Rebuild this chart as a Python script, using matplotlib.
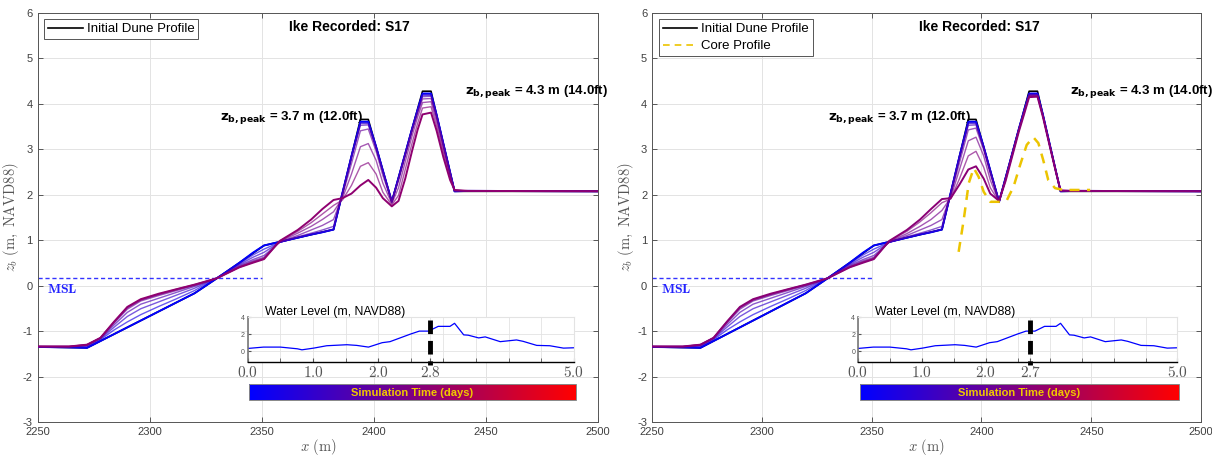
import matplotlib
matplotlib.use('Agg')
import matplotlib.pyplot as plt
from matplotlib.colors import LinearSegmentedColormap, Normalize
from matplotlib.cm import ScalarMappable

plt.rcParams['font.family'] = ['Liberation Sans', 'DejaVu Sans']
plt.rcParams['mathtext.fontset'] = 'cm'
plt.rcParams['axes.unicode_minus'] = False

# cross-shore positions of the output profiles (m)
x_grid = [2250, 2264, 2272, 2278, 2284, 2290, 2296, 2304, 2312, 2320, 2330, 2340, 2346, 2351,
          2358, 2366, 2372, 2377, 2382, 2386, 2390, 2394, 2397.5, 2401, 2404, 2408, 2411, 2414,
          2417, 2419.5, 2421.7, 2425.5, 2428, 2431, 2434, 2436, 2442, 2500]

# output times (days)
times_left = [0.0, 0.5, 1.0, 1.5, 2.0, 2.3, 2.55, 2.8]
times_right = [0.0, 0.5, 1.0, 1.5, 2.0, 2.25, 2.5, 2.7]

# beach part of each profile (x <= 2351), same in both runs
beach_z = [
    [-1.35, -1.36, -1.37, -1.22, -1.07, -0.92, -0.77, -0.57, -0.37, -0.17, 0.16, 0.50, 0.72, 0.88],
    [-1.35, -1.36, -1.35, -1.19, -0.98, -0.80, -0.64, -0.46, -0.29, -0.11, 0.17, 0.48, 0.67, 0.80],
    [-1.35, -1.35, -1.33, -1.17, -0.92, -0.68, -0.51, -0.36, -0.21, -0.06, 0.17, 0.46, 0.62, 0.73],
    [-1.34, -1.35, -1.32, -1.16, -0.87, -0.59, -0.41, -0.28, -0.15, -0.02, 0.16, 0.44, 0.57, 0.66],
    [-1.34, -1.34, -1.31, -1.15, -0.83, -0.52, -0.34, -0.22, -0.11, 0.00, 0.16, 0.42, 0.54, 0.62],
    [-1.34, -1.34, -1.30, -1.15, -0.81, -0.49, -0.32, -0.20, -0.09, 0.01, 0.16, 0.41, 0.52, 0.60],
    [-1.34, -1.34, -1.30, -1.15, -0.80, -0.48, -0.31, -0.19, -0.08, 0.02, 0.16, 0.40, 0.51, 0.59],
    [-1.34, -1.34, -1.30, -1.15, -0.80, -0.47, -0.30, -0.18, -0.08, 0.02, 0.16, 0.40, 0.50, 0.58],
]

# dune part (x >= 2358), run without core
dune_left_z = [
    [0.96, 1.05, 1.12, 1.17, 1.23, 2.04, 2.84, 3.60, 3.60, 3.05, 2.53, 1.84, 2.37, 2.90, 3.44, 3.86, 4.22, 4.22, 3.75, 3.12, 2.49, 2.07, 2.08, 2.07],
    [0.95, 1.05, 1.12, 1.17, 1.23, 2.04, 2.84, 3.58, 3.58, 3.05, 2.53, 1.85, 2.37, 2.90, 3.44, 3.85, 4.20, 4.20, 3.75, 3.12, 2.49, 2.08, 2.08, 2.07],
    [0.95, 1.06, 1.13, 1.18, 1.24, 2.03, 2.83, 3.56, 3.56, 3.04, 2.52, 1.85, 2.36, 2.89, 3.43, 3.84, 4.18, 4.18, 3.74, 3.11, 2.49, 2.08, 2.08, 2.07],
    [0.95, 1.07, 1.15, 1.22, 1.30, 2.02, 2.80, 3.52, 3.53, 3.02, 2.50, 1.85, 2.35, 2.88, 3.42, 3.82, 4.15, 4.16, 3.72, 3.10, 2.48, 2.08, 2.08, 2.07],
    [0.96, 1.10, 1.22, 1.32, 1.45, 1.98, 2.68, 3.40, 3.44, 2.95, 2.42, 1.84, 2.30, 2.84, 3.38, 3.78, 4.10, 4.11, 3.68, 3.06, 2.46, 2.08, 2.08, 2.07],
    [0.97, 1.15, 1.30, 1.45, 1.62, 1.92, 2.45, 3.05, 3.12, 2.75, 2.25, 1.80, 2.15, 2.72, 3.28, 3.70, 4.02, 4.04, 3.60, 3.00, 2.42, 2.09, 2.08, 2.07],
    [0.98, 1.19, 1.38, 1.57, 1.76, 1.88, 2.20, 2.62, 2.70, 2.45, 2.05, 1.77, 1.98, 2.55, 3.12, 3.56, 3.90, 3.93, 3.50, 2.92, 2.37, 2.09, 2.08, 2.07],
    [0.98, 1.22, 1.45, 1.68, 1.88, 1.92, 2.02, 2.20, 2.32, 2.15, 1.92, 1.74, 1.86, 2.35, 2.95, 3.42, 3.76, 3.80, 3.40, 2.82, 2.32, 2.10, 2.08, 2.07],
]

# dune part (x >= 2358), run with core
dune_right_z = [
    [0.96, 1.05, 1.12, 1.17, 1.23, 2.04, 2.84, 3.60, 3.60, 3.05, 2.53, 1.84, 2.37, 2.90, 3.44, 3.86, 4.22, 4.22, 3.75, 3.12, 2.49, 2.07, 2.08, 2.07],
    [0.95, 1.05, 1.12, 1.17, 1.23, 2.04, 2.84, 3.58, 3.58, 3.05, 2.53, 1.85, 2.37, 2.90, 3.44, 3.85, 4.21, 4.21, 3.75, 3.12, 2.49, 2.08, 2.08, 2.07],
    [0.95, 1.06, 1.13, 1.18, 1.24, 2.03, 2.83, 3.56, 3.56, 3.04, 2.52, 1.85, 2.36, 2.89, 3.43, 3.85, 4.20, 4.20, 3.74, 3.11, 2.49, 2.08, 2.08, 2.07],
    [0.95, 1.07, 1.15, 1.22, 1.30, 2.02, 2.80, 3.52, 3.53, 3.02, 2.50, 1.85, 2.35, 2.88, 3.42, 3.84, 4.19, 4.19, 3.73, 3.10, 2.48, 2.08, 2.08, 2.07],
    [0.96, 1.10, 1.22, 1.32, 1.45, 1.98, 2.70, 3.42, 3.46, 2.98, 2.45, 1.84, 2.36, 2.89, 3.43, 3.83, 4.18, 4.18, 3.73, 3.10, 2.48, 2.08, 2.08, 2.07],
    [0.97, 1.14, 1.30, 1.45, 1.65, 1.93, 2.55, 3.18, 3.26, 2.85, 2.32, 1.83, 2.34, 2.88, 3.42, 3.82, 4.17, 4.17, 3.72, 3.09, 2.48, 2.08, 2.08, 2.07],
    [0.98, 1.19, 1.40, 1.60, 1.82, 1.90, 2.35, 2.85, 2.95, 2.60, 2.15, 1.84, 2.32, 2.86, 3.40, 3.80, 4.16, 4.16, 3.71, 3.09, 2.48, 2.09, 2.08, 2.07],
    [0.98, 1.22, 1.45, 1.68, 1.90, 1.92, 2.22, 2.55, 2.62, 2.35, 2.02, 1.86, 2.30, 2.84, 3.38, 3.78, 4.14, 4.15, 3.70, 3.08, 2.47, 2.09, 2.08, 2.07],
]

# initial dune profile
init_x = [2250, 2272, 2290, 2320, 2330, 2340, 2351, 2358, 2382, 2394, 2397.5, 2408, 2421.7, 2425.5, 2436, 2500]
init_z = [-1.35, -1.37, -0.92, -0.17, 0.16, 0.50, 0.88, 0.96, 1.23, 3.65, 3.65, 1.84, 4.27, 4.27, 2.07, 2.07]

# core profile
core_x = [2389.6, 2391.9, 2394.2, 2396.5, 2398.7, 2401, 2404, 2408.5, 2411.6, 2414.6, 2417.6,
          2420.6, 2423.6, 2425.9, 2428.1, 2430.4, 2433.5, 2437.2, 2449.5]
core_z = [0.74, 1.44, 2.25, 2.58, 2.39, 2.06, 1.84, 1.84, 1.88, 2.17, 2.65, 3.09, 3.26, 3.13,
          2.76, 2.32, 2.14, 2.10, 2.10]

# water level record (days, m NAVD88)
wl_t = [0, 0.24, 0.5, 0.76, 0.83, 1.01, 1.21, 1.52, 1.67, 1.85, 2.06, 2.18, 2.49, 2.63, 2.77,
        2.92, 3.10, 3.17, 3.31, 3.38, 3.54, 3.64, 3.87, 4.12, 4.22, 4.43, 4.63, 4.84, 5.0]
wl_z = [0.32, 0.48, 0.48, 0.28, 0.16, 0.36, 0.64, 0.76, 0.68, 0.48, 1.0, 1.12, 2.0, 2.36, 2.36,
        2.92, 2.92, 3.28, 1.92, 1.88, 1.56, 1.68, 1.12, 1.32, 1.16, 0.68, 0.64, 0.36, 0.40]

msl = 0.16
t_max = 5.0

cmap = LinearSegmentedColormap.from_list('bluered', ['#0000ff', '#ff0000'])
tick_col = '#404040'
grid_col = '#e3e3e3'


def draw_panel(ax, times, dune_z, t_now, title_x, core=False):
    ax.plot(init_x, init_z, color='k', lw=1.2, zorder=3, label='Initial Dune Profile')
    for i, t in enumerate(times):
        first = i == 0
        last = i == len(times) - 1
        ax.plot(x_grid, beach_z[i] + dune_z[i], color=cmap(t / t_max),
                lw=1.4 if (first or last) else 1.0, alpha=1.0 if (first or last) else 0.65,
                zorder=4)
    if core:
        ax.plot(core_x, core_z, color='#ecc400', lw=1.8, dashes=(4, 3), zorder=5,
                label='Core Profile')

    ax.plot([2250, 2350], [msl, msl], color='#3333ff', lw=1.0, dashes=(3, 2), zorder=2)
    ax.text(2254, -0.08, r'$\mathbf{MSL}$', color='#2222ff', fontsize=10, va='center')

    ax.set_xlim(2250, 2500)
    ax.set_ylim(-3, 6)
    ax.set_xticks(range(2250, 2501, 50))
    ax.set_yticks(range(-3, 7))
    ax.grid(True, color=grid_col, lw=0.7)
    ax.set_axisbelow(True)
    ax.tick_params(direction='in', length=3.5, top=True, right=True, labelsize=8,
                   colors=tick_col, width=0.6)
    for s in ax.spines.values():
        s.set_color('#555555')
        s.set_linewidth(0.7)
    ax.set_xlabel(r'$x\ \mathrm{(m)}$', fontsize=10.5, color='#555555', labelpad=0)
    ax.set_ylabel(r'$z_b\ \mathrm{(m,\ NAVD88)}$', fontsize=10.5, color='#555555', labelpad=1)

    leg = ax.legend(loc='upper left', fontsize=9.5, fancybox=False, framealpha=1,
                    edgecolor='#555555', handlelength=2.6, borderpad=0.3,
                    labelspacing=0.35, handletextpad=0.3, borderaxespad=0.5)
    leg.get_frame().set_linewidth(0.7)
    for h in leg.get_lines():
        h.set_linewidth(1.2)

    ax.text(title_x, 5.59, 'Ike Recorded: S17', fontsize=10, fontweight='bold', ha='center')
    ax.text(2395, 3.63, r'$\mathbf{z}_{\mathbf{b,peak}}$ = 3.7 m (12.0ft)', fontsize=9.5,
            fontweight='bold', ha='right', math_fontfamily='dejavusans')
    ax.text(2440.5, 4.22, r'$\mathbf{z}_{\mathbf{b,peak}}$ = 4.3 m (14.0ft)', fontsize=9.5,
            fontweight='bold', ha='left', math_fontfamily='dejavusans')

    # water level inset
    axi = ax.inset_axes([0.375, 0.146, 0.582, 0.11])
    axi.plot(wl_t, wl_z, color='#0000ff', lw=0.9)
    axi.plot([t_now, t_now], [3.68, -1.62], color='k', lw=3.5, dashes=(2.8, 1.4),
             clip_on=False, zorder=5)
    axi.set_xlim(0, t_max)
    axi.set_ylim(-1.3, 4)
    axi.set_yticks([0, 2, 4])
    lab_t = [0.0, 1.0, 2.0, t_now, 5.0]
    axi.set_xticks(lab_t)
    axi.set_xticklabels([r'$%.1f$' % v for v in lab_t])
    axi.set_xticks([0.5, 1.5, 2.5, 3.0, 3.5, 4.0, 4.5], minor=True)
    axi.grid(True, which='both', color=grid_col, lw=0.6)
    axi.tick_params(axis='x', which='both', direction='in', length=3, labelsize=11,
                    colors='#555555', pad=2)
    axi.tick_params(axis='y', direction='in', length=2.5, labelsize=5, colors='#555555',
                    pad=2)
    axi.spines['top'].set_color(grid_col)
    axi.spines['right'].set_color(grid_col)
    axi.spines['left'].set_color('#777777')
    axi.spines['left'].set_linewidth(1.2)
    axi.spines['bottom'].set_color('k')
    axi.spines['bottom'].set_linewidth(1.0)
    axi.text(0.054, 1.12, 'Water Level (m, NAVD88)', transform=axi.transAxes,
             fontsize=8.8, va='center')

    # simulation time colour bar
    cax = ax.inset_axes([0.378, 0.054, 0.582, 0.039])
    cb = plt.colorbar(ScalarMappable(norm=Normalize(0, t_max), cmap=cmap), cax=cax,
                      orientation='horizontal')
    cb.set_ticks([])
    cb.outline.set_edgecolor('#888888')
    cb.outline.set_linewidth(0.7)
    cax.text(0.5, 0.45, 'Simulation Time (days)', transform=cax.transAxes, ha='center',
             va='center', fontsize=8, fontweight='bold', color='#f0c800')


fig = plt.figure(figsize=(12.12, 4.55), dpi=100)
ax1 = fig.add_axes([0.0311, 0.0725, 0.4623, 0.9])
ax2 = fig.add_axes([0.538, 0.0725, 0.453, 0.9])

draw_panel(ax1, times_left, dune_left_z, 2.8, 2389)
draw_panel(ax2, times_right, dune_right_z, 2.7, 2399, core=True)

fig.savefig('out.png', dpi=100)
